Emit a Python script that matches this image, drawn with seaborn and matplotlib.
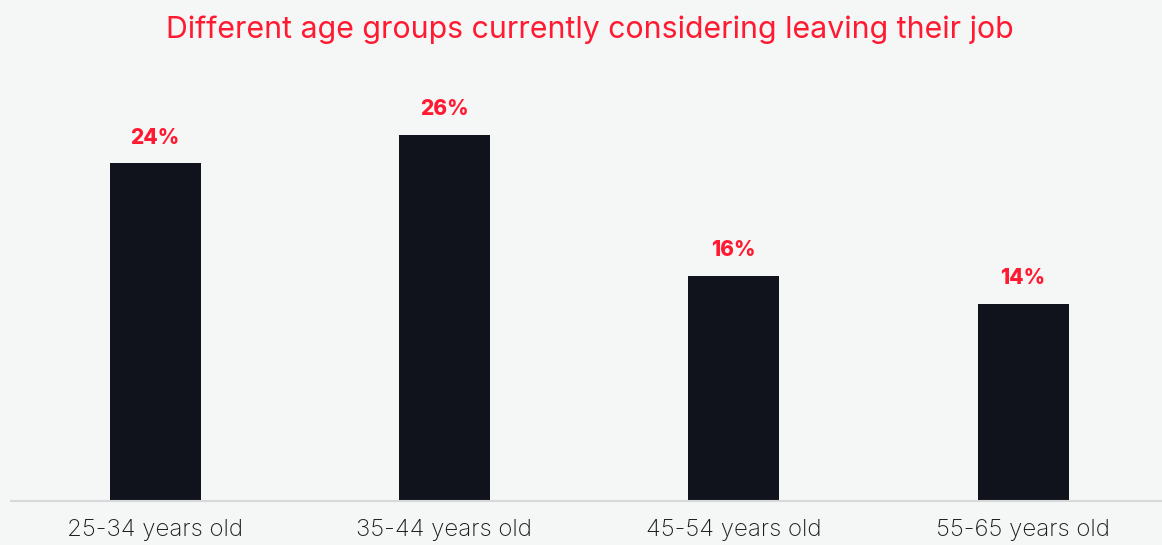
import matplotlib
matplotlib.use("Agg")
import matplotlib.pyplot as plt
import seaborn as sns
import pandas as pd

# Share of each age group currently considering leaving their job (%)
age_groups = ["25-34 years old", "35-44 years old", "45-54 years old", "55-65 years old"]
share_pct = [24, 26, 16, 14]
value_labels = ["24%", "26%", "16%", "14%"]
title_text = "Different age groups currently considering leaving their job"

BG = "#f5f6f6"
BAR = "#10131b"
RED = "#ff1a32"

sns.set_theme(style="white")
plt.rcParams["font.family"] = ["Inter", "DejaVu Sans"]

df = pd.DataFrame({"group": age_groups, "share": share_pct})

fig = plt.figure(figsize=(11.62, 5.45), dpi=100, facecolor=BG)
ax = fig.add_axes([11 / 1162, 44 / 545, 1151 / 1162, 441 / 545])
ax.set_facecolor(BG)

sns.barplot(data=df, x="group", y="share", color=BAR, width=0.315,
            saturation=1, linewidth=0, ax=ax)

ax.set_xlim(-0.498, 3.48)
ax.set_ylim(0, 31.3)

for i, (v, lab) in enumerate(zip(share_pct, value_labels)):
    ax.annotate(lab, xy=(i, v), xytext=(0, 11), textcoords="offset points",
                ha="center", va="bottom", color=RED, fontsize=15,
                fontweight="heavy")

for side in ["top", "right", "left"]:
    ax.spines[side].set_visible(False)
ax.spines["bottom"].set_color("#d6d8d9")
ax.spines["bottom"].set_linewidth(1.5)

ax.set_xlabel("")
ax.set_ylabel("")
ax.set_yticks([])
ax.tick_params(axis="x", length=0, pad=13, labelsize=17.3, labelcolor="#1c1c1c")
for t in ax.get_xticklabels():
    t.set_fontweight("light")

fig.text(590 / 1162, 1 - 30 / 545, title_text, ha="center", va="center",
         color=RED, fontsize=21.8)

fig.savefig("out.png", dpi=100, facecolor=BG)
